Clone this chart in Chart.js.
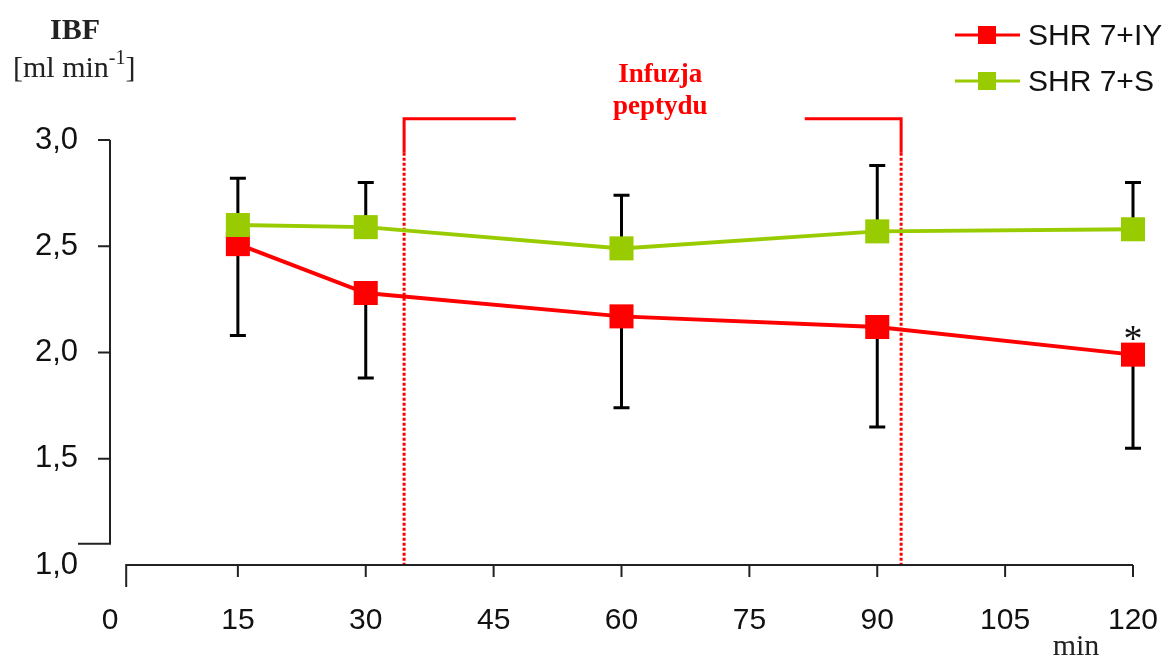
<!DOCTYPE html>
<html>
<head>
<meta charset="utf-8">
<script src="https://cdn.jsdelivr.net/npm/chart.js@4/dist/chart.umd.min.js"></script>
<style>
  html, body { margin: 0; padding: 0; background: #fff; }
  #wrap { width: 1168px; height: 660px; position: relative; }
</style>
</head>
<body>
<div id="wrap"><canvas id="c" width="1168" height="660"></canvas></div>
<script>
// Sampling times (min) and tick values
const minutes = [15, 30, 60, 90, 120];
const xTicks = [0, 15, 30, 45, 60, 75, 90, 105, 120];
const yTicks = [1.0, 1.5, 2.0, 2.5, 3.0];

// IBF means and SD, per group
const seriesLabels = ['SHR 7+IY', 'SHR 7+S'];
const ibfIY = [2.51, 2.28, 2.17, 2.12, 1.99];
const sdIY  = [0.43, 0.40, 0.43, 0.47, 0.44];
const ibfS  = [2.60, 2.59, 2.49, 2.57, 2.58];
const sdS   = [0.22, 0.21, 0.25, 0.31, 0.22];

// Peptide infusion period (min)
const infusionWindow = [34.5, 92.8];
const infusionText = ['Infuzja', 'peptydu'];

const RED = '#ff0000';
const GREEN = '#99cc00';
const SANS = '"Liberation Sans", Arial, sans-serif';
const SERIF = '"Liberation Serif", "Times New Roman", serif';

// SD whiskers: upward for the saline group, downward for the IY group
const errorBars = {
  id: 'errorBars',
  beforeDatasetsDraw(chart) {
    const { ctx, scales: { x, y } } = chart;
    ctx.save();
    ctx.strokeStyle = '#000';
    ctx.lineWidth = 3;
    const cap = 8;
    const whisker = (px, from, to) => {
      const y0 = y.getPixelForValue(from), y1 = y.getPixelForValue(to);
      ctx.beginPath();
      ctx.moveTo(px, y0); ctx.lineTo(px, y1);
      ctx.moveTo(px - cap, y1); ctx.lineTo(px + cap, y1);
      ctx.stroke();
    };
    minutes.forEach((m, i) => {
      const px = x.getPixelForValue(m);
      whisker(px, ibfS[i], ibfS[i] + sdS[i]);
      whisker(px, ibfIY[i], ibfIY[i] - sdIY[i]);
    });
    ctx.restore();
  }
};

// Infusion bracket with dotted guides down to the time axis
const infusionBracket = {
  id: 'infusionBracket',
  beforeDatasetsDraw(chart) {
    const { ctx, scales: { x, y } } = chart;
    const xl = x.getPixelForValue(infusionWindow[0]);
    const xr = x.getPixelForValue(infusionWindow[1]);
    const yTop = y.getPixelForValue(3.1);
    const ySolid = y.getPixelForValue(2.94);
    const yBase = y.getPixelForValue(1.0);
    const gapL = x.getPixelForValue(47.6);
    const gapR = x.getPixelForValue(81.5);
    ctx.save();
    ctx.strokeStyle = RED;
    ctx.lineWidth = 3;
    ctx.beginPath();
    ctx.moveTo(xl, ySolid); ctx.lineTo(xl, yTop); ctx.lineTo(gapL, yTop);
    ctx.moveTo(gapR, yTop); ctx.lineTo(xr, yTop); ctx.lineTo(xr, ySolid);
    ctx.stroke();
    ctx.setLineDash([3, 2]);
    ctx.beginPath();
    ctx.moveTo(xl, ySolid); ctx.lineTo(xl, yBase);
    ctx.moveTo(xr, ySolid); ctx.lineTo(xr, yBase);
    ctx.stroke();
    ctx.setLineDash([]);
    const cx = (gapL + gapR) / 2;
    ctx.fillStyle = RED;
    ctx.font = 'bold 27px ' + SERIF;
    ctx.textAlign = 'center';
    ctx.textBaseline = 'alphabetic';
    ctx.fillText(infusionText[0], cx, 82);
    ctx.fillText(infusionText[1], cx, 114);
    ctx.restore();
  }
};

// Separated axis lines, tick marks, axis titles, significance mark and legend
const frame = {
  id: 'frame',
  afterDraw(chart) {
    const { ctx, scales: { x, y } } = chart;
    ctx.save();
    ctx.strokeStyle = '#222';
    ctx.lineWidth = 2;

    // vertical axis
    const ax = x.getPixelForValue(0);
    const yEnd = y.getPixelForValue(1.1);
    ctx.beginPath();
    ctx.moveTo(ax, y.getPixelForValue(3.0));
    ctx.lineTo(ax, yEnd);
    ctx.lineTo(ax - 32, yEnd);
    [3.0, 2.5, 2.0, 1.5].forEach(v => {
      const py = y.getPixelForValue(v);
      ctx.moveTo(ax - 12, py); ctx.lineTo(ax, py);
    });
    ctx.stroke();

    // horizontal axis
    const ay = y.getPixelForValue(1.0);
    const xStart = x.getPixelForValue(1.9);
    ctx.beginPath();
    ctx.moveTo(xStart, ay + 22);
    ctx.lineTo(xStart, ay);
    ctx.lineTo(x.getPixelForValue(120), ay);
    xTicks.slice(1).forEach(v => {
      const px = x.getPixelForValue(v);
      ctx.moveTo(px, ay); ctx.lineTo(px, ay + 12);
    });
    ctx.stroke();

    // axis titles
    ctx.fillStyle = '#222';
    ctx.textBaseline = 'alphabetic';
    ctx.font = 'bold 30px ' + SERIF;
    ctx.textAlign = 'center';
    ctx.fillText('IBF', 75, 39);
    ctx.textAlign = 'left';
    ctx.font = '30px ' + SERIF;
    let tx = 13;
    ctx.fillText('[ml min', tx, 77);
    tx += ctx.measureText('[ml min').width;
    ctx.font = '20px ' + SERIF;
    ctx.fillText('-1', tx, 64);
    tx += ctx.measureText('-1').width;
    ctx.font = '30px ' + SERIF;
    ctx.fillText(']', tx, 77);
    ctx.textAlign = 'center';
    ctx.fillText('min', 1076, 655);

    // significance mark at the last IY point
    const last = minutes.length - 1;
    ctx.fillStyle = '#111';
    ctx.font = '38px ' + SERIF;
    ctx.fillText('*', x.getPixelForValue(minutes[last]), y.getPixelForValue(ibfIY[last]) - 4);

    // legend: line with square marker
    chart.data.datasets.slice().sort((a, b) => a.legendRank - b.legendRank).forEach((ds, i) => {
      const ly = 35 + i * 46;
      ctx.strokeStyle = ds.borderColor;
      ctx.lineWidth = 3;
      ctx.beginPath();
      ctx.moveTo(955, ly); ctx.lineTo(1020, ly);
      ctx.stroke();
      ctx.fillStyle = ds.borderColor;
      ctx.fillRect(978, ly - 9, 18, 18);
      ctx.fillStyle = '#111';
      ctx.font = '30px ' + SANS;
      ctx.textAlign = 'left';
      ctx.textBaseline = 'middle';
      ctx.fillText(ds.label, 1028, ly + 2);
    });
    ctx.restore();
  }
};

const toPoints = vals => minutes.map((m, i) => ({ x: m, y: vals[i] }));

new Chart(document.getElementById('c'), {
  type: 'line',
  data: {
    datasets: [
      {
        label: seriesLabels[0], legendRank: 0, order: 1,
        data: toPoints(ibfIY),
        borderColor: RED, backgroundColor: RED,
        borderWidth: 4, pointStyle: 'rect', pointRadius: 17,
        pointBorderWidth: 0, tension: 0, clip: false
      },
      {
        label: seriesLabels[1], legendRank: 1, order: 0,
        data: toPoints(ibfS),
        borderColor: GREEN, backgroundColor: GREEN,
        borderWidth: 4, pointStyle: 'rect', pointRadius: 17,
        pointBorderWidth: 0, tension: 0, clip: false
      }
    ]
  },
  options: {
    responsive: false,
    animation: false,
    devicePixelRatio: 1,
    layout: { padding: { top: 140, right: 35, left: 0, bottom: 0 } },
    plugins: { legend: { display: false }, tooltip: { enabled: false } },
    scales: {
      x: {
        type: 'linear', min: 0, max: 120,
        afterBuildTicks: s => { s.ticks = xTicks.map(v => ({ value: v })); },
        afterFit: s => { s.height = 95; s.paddingLeft = 0; s.paddingRight = 0; },
        grid: { display: false, drawTicks: false },
        border: { display: false },
        ticks: {
          color: '#111', padding: 38, maxRotation: 0, autoSkip: false,
          font: { family: SANS, size: 30 },
          callback: v => String(v)
        }
      },
      y: {
        type: 'linear', min: 1, max: 3,
        afterBuildTicks: s => { s.ticks = yTicks.map(v => ({ value: v })); },
        afterFit: s => { s.width = 110; s.paddingTop = 0; s.paddingBottom = 0; },
        grid: { display: false, drawTicks: false },
        border: { display: false },
        ticks: {
          color: '#111', padding: 32,
          font: { family: SANS, size: 31 },
          callback: v => Number(v).toFixed(1).replace('.', ',')
        }
      }
    }
  },
  plugins: [infusionBracket, errorBars, frame]
});
</script>
</body>
</html>
